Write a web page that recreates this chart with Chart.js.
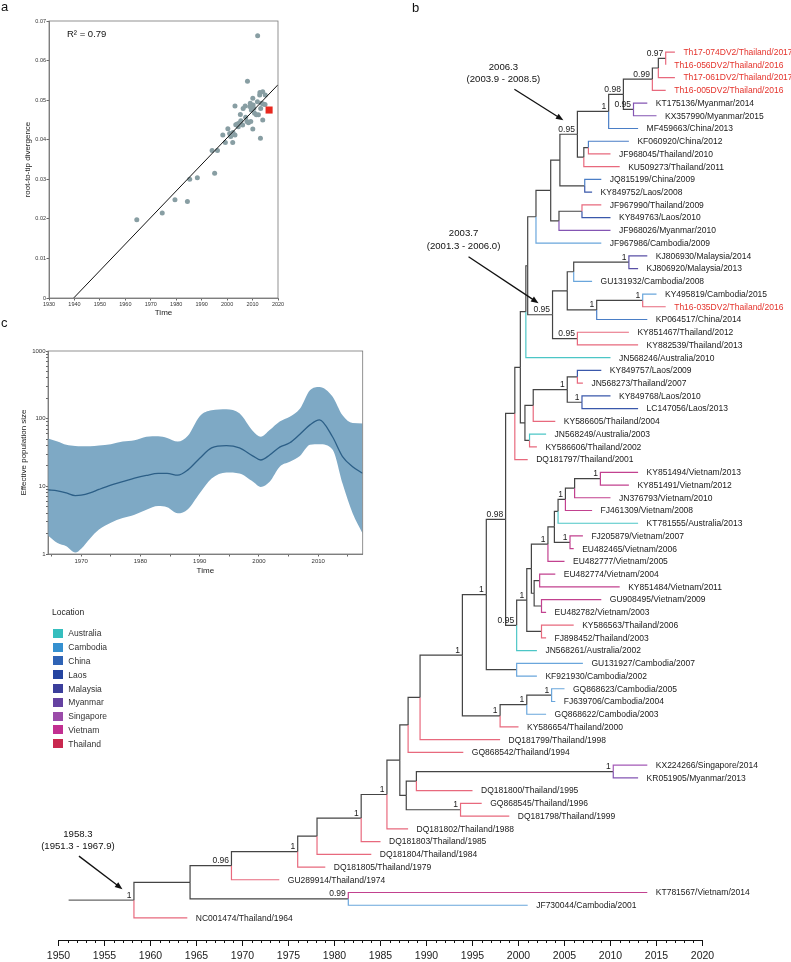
<!DOCTYPE html>
<html>
<head>
<meta charset="utf-8">
<script src="https://cdn.jsdelivr.net/npm/chart.js@4.4.1/dist/chart.umd.min.js"></script>
<style>
  html, body { margin: 0; padding: 0; background: #fff; }
  body { width: 791px; height: 962px; position: relative; overflow: hidden;
         font-family: "Liberation Sans", Arial, Helvetica, sans-serif; color: #1a1a1a; }
  canvas { position: absolute; }
  .letter { position: absolute; font-size: 13px; line-height: 13px; color: #111; }
  #r2 { position: absolute; left: 67px; top: 29px; font-size: 9.5px; line-height: 10px; color: #111; }
  #legend { position: absolute; left: 52px; top: 607px; font-size: 8.5px; color: #333; }
  #legend .title { position: absolute; left: 0; top: 0; line-height: 10px; color: #222; white-space: nowrap; }
  #legend .item { position: absolute; left: 0; height: 10px; line-height: 10px; white-space: nowrap; }
  #legend .swatch { position: absolute; left: 1.3px; top: 0.5px; width: 10px; height: 9px; }
  #legend .name { position: absolute; left: 16.3px; top: 0; }
</style>
</head>
<body>
<canvas id="treeChart" width="791" height="962" style="left:0;top:0"></canvas>
<canvas id="rttChart" width="300" height="330" style="left:0;top:0"></canvas>
<canvas id="skyChart" width="370" height="290" style="left:0;top:330px"></canvas>
<div class="letter" style="left:1px;top:0">a</div>
<div class="letter" style="left:412px;top:1px">b</div>
<div class="letter" style="left:1px;top:316px">c</div>
<div id="r2">R² = 0.79</div>
<div id="legend"><div class="title">Location</div></div>

<script>
const FONT = '"Liberation Sans", Arial, Helvetica, sans-serif';
Chart.defaults.font.family = FONT;
Chart.defaults.color = '#222';

// ---- panel a: root-to-tip regression ----
const rttYears = [1964.5, 1974.5, 1979.5, 1984.4, 1985.3, 1988.3, 1994.1, 1995.1, 1996.2, 1998.3,
  1999.3, 2000.3, 2001.0, 2001.4, 2002.2, 2002.3, 2003.1, 2003.1, 2003.4, 2004.0,
  2004.4, 2004.8, 2005.2, 2005.4, 2006.1, 2006.3, 2007.1, 2007.3, 2007.8, 2008.0,
  2008.4, 2008.9, 2009.1, 2009.3, 2009.5, 2010.1, 2010.1, 2010.2, 2010.5, 2010.8,
  2011.5, 2011.9, 2012.0, 2012.3, 2012.8, 2012.9, 2013.1, 2013.2, 2013.5, 2014.0,
  2014.0, 2014.2, 2015.0, 2014.9];
const rttDivergence = [0.0198, 0.0215, 0.0248, 0.0244, 0.0300, 0.0304, 0.0373, 0.0315, 0.0373, 0.0412,
  0.0393, 0.0428, 0.0416, 0.0408, 0.0393, 0.0418, 0.0412, 0.0485, 0.0438, 0.0440,
  0.0433, 0.0442, 0.0464, 0.0448, 0.0437, 0.0479, 0.0485, 0.0457, 0.0446, 0.0548,
  0.0443, 0.0484, 0.0492, 0.0446, 0.0475, 0.0505, 0.0427, 0.0488, 0.0479, 0.0467,
  0.0463, 0.0496, 0.0663, 0.0463, 0.0513, 0.0519, 0.0404, 0.0479, 0.0492, 0.0521,
  0.0450, 0.0490, 0.0513, 0.0489];
const newSampleYears = [2016.5];
const newSampleDivergence = [0.0475];
const regressionYears = [1939.7, 2020];
const regressionDivergence = [0, 0.0539];

// ---- panel c: skyline ----
const skyYears = [1964.4, 1966, 1967.5, 1969, 1970, 1971.5, 1973, 1975, 1977, 1979, 1981, 1983,
  1984.5, 1986.3, 1988, 1990, 1992, 1994.5, 1996.7, 1999, 2000.3, 2001.8, 2003.5, 2005.2,
  2006.9, 2008.6, 2010.2, 2012.4, 2014.1, 2015.8, 2017.5];
const skyUpper = [51, 46, 41, 39.5, 39, 39, 40, 42, 46, 48, 54, 55,
  52, 46, 56, 109, 133, 138, 120, 65, 54, 68, 91, 107,
  140, 264, 295, 213, 112, 86, 85];
const skyMedian = [8.9, 8.6, 8.0, 7.3, 7.4, 8.0, 9.0, 10.4, 11.7, 13.2, 14.5, 15.5,
  15.5, 14.6, 17.5, 26, 37, 40, 37, 28, 24.5, 29, 38, 44,
  59, 81, 96, 54, 27.5, 19.5, 15.6];
const skyLower = [1.87, 1.45, 1.3, 1.05, 1.2, 1.7, 2.3, 2.9, 3.4, 3.8, 4.5, 5.1,
  4.9, 4.0, 4.6, 7.9, 13, 16, 15.5, 11.7, 9.8, 11.7, 19.5, 23,
  28, 41, 42, 35, 11, 4, 2];

// ---- legend / locations ----
const locations = ['Australia', 'Cambodia', 'China', 'Laos', 'Malaysia', 'Myanmar', 'Singapore', 'Vietnam', 'Thailand'];
const legendColors = ['#35bebe', '#3590d0', '#2f63b5', '#2444a0', '#3b3e9b', '#6542a1', '#9b4ba9', '#c22f91', '#c9284f'];
const branchColors = ['#4cc6c6', '#6aa6dc', '#4a7ec6', '#3a58ab', '#5a50a6', '#8455b3', '#a45ab7', '#c2418f', '#e8697d'];

// ---- panel b: time tree ----
const tipLabels = [
  'Th17-074DV2/Thailand/2017', 'Th16-056DV2/Thailand/2016', 'Th17-061DV2/Thailand/2017', 'Th16-005DV2/Thailand/2016',
  'KT175136/Myanmar/2014', 'KX357990/Myanmar/2015', 'MF459663/China/2013', 'KF060920/China/2012',
  'JF968045/Thailand/2010', 'KU509273/Thailand/2011', 'JQ815199/China/2009', 'KY849752/Laos/2008',
  'JF967990/Thailand/2009', 'KY849763/Laos/2010', 'JF968026/Myanmar/2010', 'JF967986/Cambodia/2009',
  'KJ806930/Malaysia/2014', 'KJ806920/Malaysia/2013', 'GU131932/Cambodia/2008', 'KY495819/Cambodia/2015',
  'Th16-035DV2/Thailand/2016', 'KP064517/China/2014', 'KY851467/Thailand/2012', 'KY882539/Thailand/2013',
  'JN568246/Australia/2010', 'KY849757/Laos/2009', 'JN568273/Thailand/2007', 'KY849768/Laos/2010',
  'LC147056/Laos/2013', 'KY586605/Thailand/2004', 'JN568249/Australia/2003', 'KY586606/Thailand/2002',
  'DQ181797/Thailand/2001', 'KY851494/Vietnam/2013', 'KY851491/Vietnam/2012', 'JN376793/Vietnam/2010',
  'FJ461309/Vietnam/2008', 'KT781555/Australia/2013', 'FJ205879/Vietnam/2007', 'EU482465/Vietnam/2006',
  'EU482777/Vietnam/2005', 'EU482774/Vietnam/2004', 'KY851484/Vietnam/2011', 'GU908495/Vietnam/2009',
  'EU482782/Vietnam/2003', 'KY586563/Thailand/2006', 'FJ898452/Thailand/2003', 'JN568261/Australia/2002',
  'GU131927/Cambodia/2007', 'KF921930/Cambodia/2002', 'GQ868623/Cambodia/2005', 'FJ639706/Cambodia/2004',
  'GQ868622/Cambodia/2003', 'KY586654/Thailand/2000', 'DQ181799/Thailand/1998', 'GQ868542/Thailand/1994',
  'KX224266/Singapore/2014', 'KR051905/Myanmar/2013', 'DQ181800/Thailand/1995', 'GQ868545/Thailand/1996',
  'DQ181798/Thailand/1999', 'DQ181802/Thailand/1988', 'DQ181803/Thailand/1985', 'DQ181804/Thailand/1984',
  'DQ181805/Thailand/1979', 'GU289914/Thailand/1974', 'KT781567/Vietnam/2014', 'JF730044/Cambodia/2001',
  'NC001474/Thailand/1964'
];
const tipYears = [2017, 2016, 2017, 2016, 2014, 2015, 2013, 2012, 2010, 2011, 2009, 2008,
  2009, 2010, 2010, 2009, 2014, 2013, 2008, 2015, 2016, 2014, 2012, 2013,
  2010, 2009, 2007, 2010, 2013, 2004, 2003, 2002, 2001, 2013, 2012, 2010,
  2008, 2013, 2007, 2006, 2005, 2004, 2011, 2009, 2003, 2006, 2003, 2002,
  2007, 2002, 2005, 2004, 2003, 2000, 1998, 1994, 2014, 2013, 1995, 1996,
  1999, 1988, 1985, 1984, 1979, 1974, 2014, 2001, 1964];
const highlightTips = ['Th17-074DV2', 'Th16-056DV2', 'Th17-061DV2', 'Th16-005DV2', 'Th16-035DV2'];

// internal nodes: [id, child, child, node age (year), posterior]
const treeNodes = [
  ['A', 'Th17-074DV2', 'Th16-056DV2', 2016.0, '0.97'],
  ['B', 'A', 'Th17-061DV2', 2015.2, ''],
  ['C', 'B', 'Th16-005DV2', 2014.55, '0.99'],
  ['E', 'KT175136', 'KX357990', 2012.5, '0.95'],
  ['D', 'C', 'E', 2011.4, '0.98'],
  ['F', 'D', 'MF459663', 2009.8, '1'],
  ['H', 'KF060920', 'JF968045', 2007.6, ''],
  ['I', 'H', 'KU509273', 2007.1, ''],
  ['G', 'F', 'I', 2006.4, '0.95'],
  ['K', 'JQ815199', 'KY849752', 2007.2, ''],
  ['J', 'G', 'K', 2004.5, ''],
  ['M', 'JF967990', 'KY849763', 2006.9, ''],
  ['N', 'M', 'JF968026', 2004.4, ''],
  ['L', 'J', 'N', 2003.5, ''],
  ['O', 'L', 'JF967986', 2001.9, ''],
  ['Q', 'KJ806930', 'KJ806920', 2012.0, '1'],
  ['R', 'Q', 'GU131932', 2006.0, ''],
  ['S', 'KY495819', 'Th16-035DV2', 2013.5, '1'],
  ['T', 'S', 'KP064517', 2008.5, '1'],
  ['U', 'R', 'T', 2005.3, ''],
  ['V', 'KY851467', 'KY882539', 2006.4, '0.95'],
  ['W', 'U', 'V', 2003.7, '0.95'],
  ['P', 'O', 'W', 2001.0, ''],
  ['X', 'P', 'JN568246', 2000.8, ''],
  ['Z1', 'KY849757', 'JN568273', 2006.4, ''],
  ['Z2', 'KY849768', 'LC147056', 2006.9, '1'],
  ['Z3', 'Z1', 'Z2', 2005.3, '1'],
  ['Z4', 'Z3', 'KY586605', 2001.6, ''],
  ['Z5', 'JN568249', 'KY586606', 2001.2, ''],
  ['Z6', 'Z4', 'Z5', 2000.7, ''],
  ['Y', 'X', 'Z6', 2000.2, ''],
  ['Y2', 'Y', 'DQ181797', 1999.6, ''],
  ['VA', 'KY851494', 'KY851491', 2008.9, '1'],
  ['VB', 'VA', 'JN376793', 2006.1, ''],
  ['VC', 'VB', 'FJ461309', 2005.1, '1'],
  ['VD', 'VC', 'KT781555', 2004.3, ''],
  ['VE', 'FJ205879', 'EU482465', 2005.6, '1'],
  ['VF', 'VD', 'VE', 2003.9, ''],
  ['VG', 'VF', 'EU482777', 2003.2, '1'],
  ['VH', 'EU482774', 'KY851484', 2002.3, ''],
  ['VI', 'GU908495', 'EU482782', 2002.5, ''],
  ['VJ', 'VH', 'VI', 2001.7, ''],
  ['VK', 'VG', 'VJ', 2001.4, ''],
  ['VL', 'KY586563', 'FJ898452', 2002.5, ''],
  ['VM', 'VK', 'VL', 2000.9, '1'],
  ['VN', 'VM', 'JN568261', 1999.8, '0.95'],
  ['Y3', 'Y2', 'VN', 1998.6, '0.98'],
  ['CA', 'GU131927', 'KF921930', 1999.8, ''],
  ['N1a', 'Y3', 'CA', 1996.5, '1'],
  ['CB', 'GQ868623', 'FJ639706', 2003.6, '1'],
  ['CC', 'CB', 'GQ868622', 2000.9, '1'],
  ['CD', 'CC', 'KY586654', 1998.0, '1'],
  ['N1b', 'N1a', 'CD', 1993.9, '1'],
  ['B1', 'N1b', 'DQ181799', 1989.3, ''],
  ['B2', 'B1', 'GQ868542', 1988.0, ''],
  ['SM', 'KX224266', 'KR051905', 2010.3, '1'],
  ['SM2', 'SM', 'DQ181800', 1988.9, ''],
  ['SM3', 'GQ868545', 'DQ181798', 1993.7, '1'],
  ['SM4', 'SM2', 'SM3', 1987.8, ''],
  ['B3', 'B2', 'SM4', 1987.1, ''],
  ['B4', 'B3', 'DQ181802', 1985.7, '1'],
  ['B5', 'B4', 'DQ181803', 1982.9, '1'],
  ['B6', 'B5', 'DQ181804', 1978.1, ''],
  ['B7', 'B6', 'DQ181805', 1976.0, '1'],
  ['B8', 'B7', 'GU289914', 1968.8, '0.96'],
  ['B9', 'KT781567', 'JF730044', 1981.5, '0.99'],
  ['B10', 'B8', 'B9', 1964.3, ''],
  ['R0', 'B10', 'NC001474', 1958.2, '1']
];
const rootStemStart = 1951.1;
const treeAxisYears = [1950, 1955, 1960, 1965, 1970, 1975, 1980, 1985, 1990, 1995, 2000, 2005, 2010, 2015, 2020];

// node age callouts (mean and 95% HPD)
const callouts = [
  { node: 'G', lines: ['2006.3', '(2003.9 - 2008.5)'] },
  { node: 'W', lines: ['2003.7', '(2001.3 - 2006.0)'] },
  { node: 'R0', lines: ['1958.3', '(1951.3 - 1967.9)'] }
];
// pixel offsets from the node: text centre, arrow tail, arrow head
const calloutLayout = [
  { text: [-74, -67], tail: [-63, -45], head: [-14, -14] },
  { text: [-89, -81], tail: [-84, -58], head: [-14, -11.5] },
  { text: [-56, -66], tail: [-55, -44], head: [-11.5, -11] }
];

// build tree geometry
const tipIds = tipLabels.map(s => s.split('/')[0]);
const tipLocs = tipLabels.map(s => s.split('/')[1]);
const nodeTime = {}, nodeRow = {}, kids = {};
tipIds.forEach((id, i) => { nodeTime[id] = tipYears[i]; nodeRow[id] = i; });
treeNodes.forEach(([id, a, b, t]) => { kids[id] = [a, b]; nodeTime[id] = t; });
function rowOf(id) {
  if (nodeRow[id] === undefined) nodeRow[id] = (rowOf(kids[id][0]) + rowOf(kids[id][1])) / 2;
  return nodeRow[id];
}
const internalColor = '#444';
const branchSets = [];
treeNodes.forEach(([id, a, b]) => {
  [a, b].forEach(c => {
    const tipIndex = tipIds.indexOf(c);
    const color = tipIndex >= 0 ? branchColors[locations.indexOf(tipLocs[tipIndex])] : internalColor;
    branchSets.push({
      data: [
        { x: nodeTime[id], y: rowOf(id) },
        { x: nodeTime[id], y: rowOf(c) },
        { x: nodeTime[c], y: rowOf(c) }
      ],
      borderColor: color
    });
  });
});
branchSets.push({
  data: [{ x: rootStemStart, y: rowOf('R0') }, { x: nodeTime.R0, y: rowOf('R0') }],
  borderColor: '#666'
});
branchSets.forEach(d => Object.assign(d, {
  showLine: true, pointRadius: 0, pointHoverRadius: 0, borderWidth: 1.2,
  borderJoinStyle: 'miter', borderCapStyle: 'butt', tension: 0
}));

function drawArrow(ctx, x0, y0, x1, y1) {
  const ang = Math.atan2(y1 - y0, x1 - x0);
  ctx.beginPath();
  ctx.moveTo(x0, y0);
  ctx.lineTo(x1 - 6 * Math.cos(ang), y1 - 6 * Math.sin(ang));
  ctx.stroke();
  ctx.beginPath();
  ctx.moveTo(x1, y1);
  ctx.lineTo(x1 - 7.5 * Math.cos(ang) + 3 * Math.sin(ang), y1 - 7.5 * Math.sin(ang) - 3 * Math.cos(ang));
  ctx.lineTo(x1 - 7.5 * Math.cos(ang) - 3 * Math.sin(ang), y1 - 7.5 * Math.sin(ang) + 3 * Math.cos(ang));
  ctx.closePath();
  ctx.fill();
}

const treeDecor = {
  id: 'treeDecor',
  afterDatasetsDraw(chart) {
    const { ctx, chartArea, scales: { x, y } } = chart;
    ctx.save();
    // minor year ticks on the time axis
    ctx.strokeStyle = '#111';
    ctx.lineWidth = 1;
    for (let yr = 1950; yr <= 2020; yr++) {
      if (treeAxisYears.includes(yr)) continue;
      const px = Math.round(x.getPixelForValue(yr)) + 0.5;
      ctx.beginPath();
      ctx.moveTo(px, chartArea.bottom);
      ctx.lineTo(px, chartArea.bottom + 3);
      ctx.stroke();
    }
    // tip labels
    ctx.font = '8.5px ' + FONT;
    ctx.textAlign = 'left';
    ctx.textBaseline = 'middle';
    tipIds.forEach((id, i) => {
      ctx.fillStyle = highlightTips.includes(id) ? '#e4322b' : '#1a1a1a';
      ctx.fillText(tipLabels[i], x.getPixelForValue(tipYears[i]) + 8.5, y.getPixelForValue(i) + 0.5);
    });
    // posterior support
    ctx.textAlign = 'right';
    ctx.textBaseline = 'alphabetic';
    ctx.fillStyle = '#1a1a1a';
    treeNodes.forEach(([id, , , t, p]) => {
      if (p) ctx.fillText(p, x.getPixelForValue(t) - 2.5, y.getPixelForValue(rowOf(id)) - 2.5);
    });
    // node age callouts
    ctx.font = '9.6px ' + FONT;
    ctx.textAlign = 'center';
    ctx.textBaseline = 'middle';
    ctx.strokeStyle = '#111';
    ctx.fillStyle = '#111';
    ctx.lineWidth = 1.3;
    callouts.forEach((c, i) => {
      const L = calloutLayout[i];
      const nx = x.getPixelForValue(nodeTime[c.node]);
      const ny = y.getPixelForValue(rowOf(c.node));
      c.lines.forEach((s, k) => ctx.fillText(s, nx + L.text[0], ny + L.text[1] + k * 12.3));
      drawArrow(ctx, nx + L.tail[0], ny + L.tail[1], nx + L.head[0], ny + L.head[1]);
    });
    ctx.restore();
  }
};

new Chart(document.getElementById('treeChart'), {
  type: 'scatter',
  data: { datasets: branchSets },
  options: {
    responsive: false,
    animation: false,
    events: [],
    layout: { padding: { left: 58.5, right: 88.5, top: 33, bottom: 0 } },
    plugins: { legend: { display: false }, tooltip: { enabled: false } },
    scales: {
      x: {
        type: 'linear', min: 1950, max: 2020,
        afterBuildTicks: s => { s.ticks = treeAxisYears.map(v => ({ value: v })); },
        afterFit: s => { s.height = 22; },
        border: { display: true, color: '#111', width: 1 },
        grid: { drawOnChartArea: false, tickLength: 6, color: '#111', lineWidth: 1 },
        ticks: { padding: 4, color: '#222', font: { size: 10.5 }, autoSkip: false, maxRotation: 0,
                 callback: v => String(v) }
      },
      y: { type: 'linear', display: false, reverse: true, min: -1.5, max: 69.73 }
    }
  },
  plugins: [treeDecor]
});

// box around plot area
const frame = {
  id: 'frame',
  afterDraw(chart) {
    const { ctx, chartArea: a } = chart;
    ctx.save();
    ctx.strokeStyle = '#777';
    ctx.lineWidth = 0.8;
    ctx.strokeRect(a.left, a.top, a.right - a.left, a.bottom - a.top);
    ctx.restore();
  }
};

// panel a
new Chart(document.getElementById('rttChart'), {
  type: 'scatter',
  data: {
    datasets: [
      { data: newSampleYears.map((x, i) => ({ x, y: newSampleDivergence[i] })),
        pointStyle: 'rect', pointRadius: 5, backgroundColor: '#e8291f', borderWidth: 0, order: 0 },
      { data: regressionYears.map((x, i) => ({ x, y: regressionDivergence[i] })),
        showLine: true, borderColor: '#111', borderWidth: 1, pointRadius: 0, order: 1 },
      { data: rttYears.map((x, i) => ({ x, y: rttDivergence[i] })),
        pointRadius: 2.5, backgroundColor: '#889ea3', borderWidth: 0, order: 2 }
    ]
  },
  options: {
    responsive: false,
    animation: false,
    events: [],
    layout: { padding: { left: 0, right: 22, top: 21, bottom: 0 } },
    plugins: { legend: { display: false }, tooltip: { enabled: false } },
    scales: {
      x: {
        type: 'linear', min: 1930, max: 2020,
        afterFit: s => { s.height = 32; },
        border: { color: '#666', width: 0.8 },
        grid: { drawOnChartArea: false, tickLength: 2.5, color: '#666' },
        ticks: { stepSize: 10, padding: 1, font: { size: 5.5 }, color: '#333', callback: v => String(v) },
        title: { display: true, text: 'Time', font: { size: 8 }, color: '#222', padding: { top: 0, bottom: 12 } }
      },
      y: {
        type: 'linear', min: 0, max: 0.07,
        afterFit: s => { s.width = 49; },
        border: { color: '#666', width: 0.8 },
        grid: { drawOnChartArea: false, tickLength: 2.5, color: '#666' },
        ticks: { stepSize: 0.01, padding: 0.5, font: { size: 5.5 }, color: '#333',
                 callback: v => (v === 0 ? '0' : v.toFixed(2)) },
        title: { display: true, text: 'root-to-tip divergence', font: { size: 8 }, color: '#222', padding: { top: 23, bottom: 0 } }
      }
    }
  },
  plugins: [frame]
});

// panel c
const skyTicksX = [1965, 1970, 1975, 1980, 1985, 1990, 1995, 2000, 2005, 2010, 2015];
const skyTicksY = [1, 2, 3, 4, 5, 6, 7, 8, 9, 10, 20, 30, 40, 50, 60, 70, 80, 90,
  100, 200, 300, 400, 500, 600, 700, 800, 900, 1000];
new Chart(document.getElementById('skyChart'), {
  type: 'line',
  data: {
    datasets: [
      { data: skyYears.map((x, i) => ({ x, y: skyUpper[i] })), borderWidth: 0, borderColor: 'rgba(0,0,0,0)',
        backgroundColor: '#7ea9c5', fill: 2, order: 1 },
      { data: skyYears.map((x, i) => ({ x, y: skyMedian[i] })), borderWidth: 1.3, borderColor: '#2c5f87', fill: false, order: 0 },
      { data: skyYears.map((x, i) => ({ x, y: skyLower[i] })), borderWidth: 0, borderColor: 'rgba(0,0,0,0)', fill: false, order: 2 }
    ].map(d => Object.assign(d, { pointRadius: 0, cubicInterpolationMode: 'monotone' }))
  },
  options: {
    responsive: false,
    animation: false,
    events: [],
    layout: { padding: { left: 0, right: 7.3, top: 21, bottom: 0 } },
    plugins: { legend: { display: false }, tooltip: { enabled: false }, filler: { drawTime: 'beforeDatasetsDraw' } },
    scales: {
      x: {
        type: 'linear', min: 1964.4, max: 2017.5,
        afterBuildTicks: s => { s.ticks = skyTicksX.map(v => ({ value: v })); },
        afterFit: s => { s.height = 66; },
        border: { color: '#666', width: 0.8 },
        grid: { drawOnChartArea: false, tickLength: 2.5, color: '#666' },
        ticks: { padding: 1, font: { size: 6 }, color: '#333', autoSkip: false, maxRotation: 0,
                 callback: v => (v % 10 === 0 ? String(v) : '') },
        title: { display: true, text: 'Time', font: { size: 8 }, color: '#222', padding: { top: 0, bottom: 44.5 } }
      },
      y: {
        type: 'logarithmic', min: 1, max: 1000,
        afterBuildTicks: s => { s.ticks = skyTicksY.map(v => ({ value: v })); },
        afterFit: s => { s.width = 48; },
        border: { color: '#666', width: 0.8 },
        grid: { drawOnChartArea: false, tickLength: 2, color: '#666' },
        ticks: { padding: 0.5, font: { size: 6 }, color: '#333', autoSkip: false,
                 callback: v => ([1, 10, 100, 1000].includes(v) ? String(v) : '') },
        title: { display: true, text: 'Effective population size', font: { size: 8 }, color: '#222', padding: { top: 18.5, bottom: 0 } }
      }
    }
  },
  plugins: [frame]
});

// legend
const legendBox = document.getElementById('legend');
locations.forEach((loc, i) => {
  const row = document.createElement('div');
  row.className = 'item';
  row.style.top = (21.3 + i * 13.8) + 'px';
  row.innerHTML = '<span class="swatch" style="background:' + legendColors[i] + '"></span><span class="name">' + loc + '</span>';
  legendBox.appendChild(row);
});
</script>
</body>
</html>
